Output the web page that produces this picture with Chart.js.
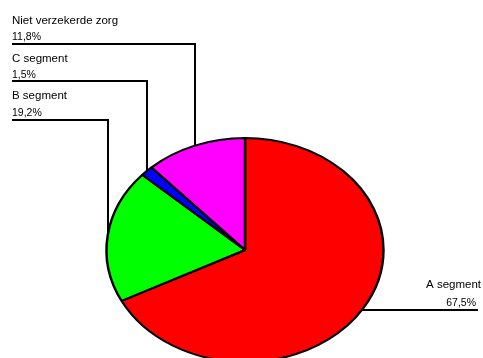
<!DOCTYPE html>
<html>
<head>
<meta charset="utf-8">
<script src="https://cdn.jsdelivr.net/npm/chart.js"></script>
<style>
  body { margin: 0; background: #fff; }
  canvas { display: block; }
</style>
</head>
<body>
<canvas id="taart" width="483" height="358"></canvas>
<script>
const segmenten = ["A segment", "B segment", "C segment", "Niet verzekerde zorg"]
const aandelen = [67.5, 19.2, 1.5, 11.8]
const kleuren = ["#ff0000", "#00ff00", "#0000ff", "#ff00ff"]

// de taart wordt horizontaal uitgerekt tot een ellips
const straal = 112
const rekX = 138.5 / straal

// labels links krijgen een haakse lijn, A segment staat rechts
const labelPlek = [
    { kant: "rechts", naamY: 288, pctY: 306 },
    { kant: "links", lijnY: 120, naamY: 98.5, pctY: 115.5 },
    { kant: "links", lijnY: 81, naamY: 61.5, pctY: 77.5 },
    { kant: "links", lijnY: 44, naamY: 24, pctY: 39.5 }
]

const letter = '"Liberation Sans", Arial, sans-serif'

function procent(waarde) {
    return waarde.toFixed(1).replace(".", ",") + "%"
}

// punt op de rand van de ellips, midden in het segment
function randPunt(arc) {
    const hoek = (arc.startAngle + arc.endAngle) / 2
    return {
        x: arc.x + Math.cos(hoek) * arc.outerRadius * rekX,
        y: arc.y + Math.sin(hoek) * arc.outerRadius
    }
}

const ellips = {
    id: "ellips",
    beforeDatasetsDraw(chart) {
        const ctx = chart.ctx
        const arcs = chart.getDatasetMeta(0).data

        ctx.save()
        ctx.strokeStyle = "#000"
        ctx.lineWidth = 2
        ctx.fillStyle = "#000"
        arcs.forEach((arc, i) => {
            const p = randPunt(arc)
            const plek = labelPlek[i]
            const px = Math.round(p.x)
            ctx.beginPath()
            if (plek.kant === "links") {
                ctx.moveTo(12, plek.lijnY)
                ctx.lineTo(px, plek.lijnY)
                ctx.lineTo(px, p.y + 3)
                ctx.stroke()
                ctx.textAlign = "left"
                ctx.font = "11.5px " + letter
                ctx.fillText(segmenten[i], 12, plek.naamY)
                ctx.font = "10.5px " + letter
                ctx.fillText(procent(aandelen[i]), 12, plek.pctY)
            } else {
                const py = Math.round(p.y) + 1
                ctx.moveTo(px - 5, py)
                ctx.lineTo(478, py)
                ctx.stroke()
                ctx.textAlign = "right"
                ctx.font = "11.5px " + letter
                ctx.fillText(segmenten[i], 481, plek.naamY)
                ctx.font = "10.5px " + letter
                ctx.fillText(procent(aandelen[i]), 476, plek.pctY)
            }
        })
        ctx.restore()

        // uitrekken rond het middelpunt
        const midden = arcs[0]
        ctx.save()
        ctx.translate(midden.x, midden.y)
        ctx.scale(rekX, 1)
        ctx.translate(-midden.x, -midden.y)
    },
    afterDatasetsDraw(chart) {
        chart.ctx.restore()
    }
}

new Chart(document.getElementById("taart"), {
    type: "pie",
    data: {
        labels: segmenten,
        datasets: [{
            data: aandelen,
            backgroundColor: kleuren,
            borderColor: "#000",
            borderWidth: 2,
            radius: straal,
            clip: false
        }]
    },
    options: {
        responsive: false,
        animation: false,
        layout: { padding: { left: 7, right: 0, top: 142, bottom: 0 } },
        plugins: {
            legend: { display: false },
            tooltip: { enabled: false }
        }
    },
    plugins: [ellips]
})
</script>
</body>
</html>
